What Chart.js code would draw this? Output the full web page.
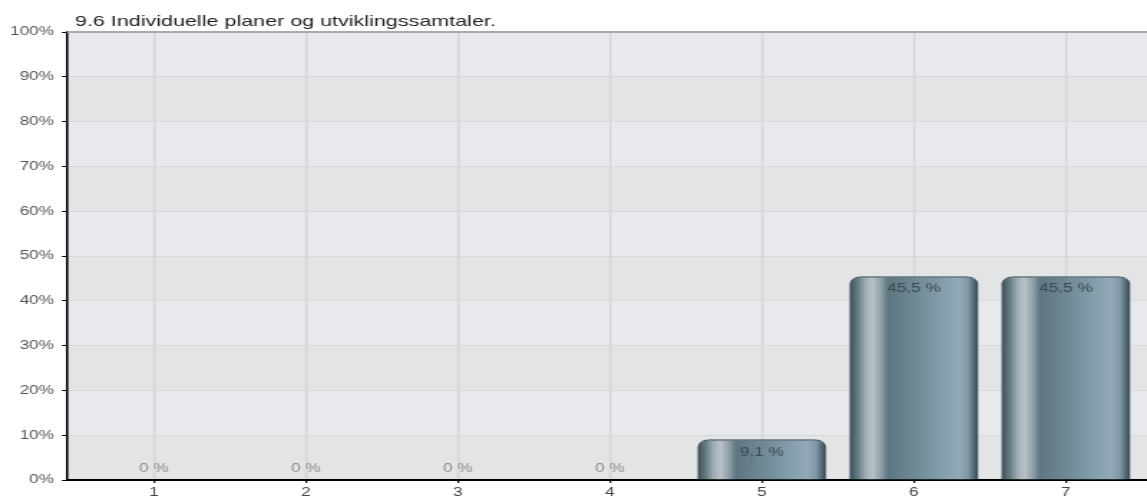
<!DOCTYPE html>
<html>
<head>
<meta charset="utf-8">
<script src="https://cdn.jsdelivr.net/npm/chart.js@4/dist/chart.umd.min.js"></script>
<style>
  html, body { margin: 0; padding: 0; background: #fff; overflow: hidden; }
  #wrap { width: 1147px; height: 499px; overflow: hidden; }
  /* the chart is laid out 800px wide and stretched to the full page width */
  canvas { display: block; transform: scaleX(1.43375); transform-origin: 0 0; }
</style>
</head>
<body>
<div id="wrap"><canvas id="c" width="800" height="499"></canvas></div>
<script>
const chartTitle = '9.6 Individuelle planer og utviklingssamtaler.';
const categories = ['1', '2', '3', '4', '5', '6', '7'];
const shares = [0, 0, 0, 0, 9.1, 45.5, 45.5];   // percent of answers

const FONT = '"Liberation Sans", Arial, Helvetica, sans-serif';
const BAR_FRACTION = 0.85;

// metallic cylinder look for each bar
const barStops = [
  [0.00, '#3b4d57'], [0.06, '#62777f'], [0.13, '#a3b0b7'], [0.18, '#b8c2c8'],
  [0.24, '#93a3ab'], [0.30, '#5f7783'], [0.50, '#6e8894'], [0.70, '#829caa'],
  [0.85, '#93abb8'], [0.92, '#7f97a4'], [0.97, '#4d626d'], [1.00, '#3c4f59']
];

function barFill(ctx) {
  const chart = ctx.chart;
  const xs = chart.scales && chart.scales.x;
  if (ctx.type !== 'data' || !xs) return '#6e8894';
  const c = Number(categories[ctx.dataIndex]);
  const x0 = xs.getPixelForValue(c - BAR_FRACTION / 2);
  const x1 = xs.getPixelForValue(c + BAR_FRACTION / 2);
  if (!isFinite(x0) || !isFinite(x1) || x1 <= x0) return '#6e8894';
  const g = chart.ctx.createLinearGradient(x0, 0, x1, 0);
  barStops.forEach(([o, col]) => g.addColorStop(o, col));
  return g;
}

// alternating horizontal bands behind the grid
const bandsPlugin = {
  id: 'bands',
  beforeDraw(chart) {
    const { ctx, chartArea: a, scales: { y } } = chart;
    ctx.save();
    for (let v = 0; v < 100; v += 10) {
      const top = y.getPixelForValue(v + 10);
      const bot = y.getPixelForValue(v);
      ctx.fillStyle = (v / 10) % 2 === 0 ? '#e3e4e6' : '#e7e9ec';
      ctx.fillRect(a.left, top, a.right - a.left, bot - top);
    }
    ctx.restore();
  }
};

// grey frame line along the top of the plot
const topLinePlugin = {
  id: 'topLine',
  afterDatasetsDraw(chart) {
    const { ctx, chartArea: a } = chart;
    ctx.save();
    ctx.strokeStyle = '#a9aaac';
    ctx.lineWidth = 2;
    ctx.beginPath();
    ctx.moveTo(a.left, a.top);
    ctx.lineTo(a.right, a.top);
    ctx.stroke();
    ctx.restore();
  }
};

// percentage printed on each bar
const valueLabelPlugin = {
  id: 'valueLabels',
  afterDatasetsDraw(chart) {
    const { ctx } = chart;
    const meta = chart.getDatasetMeta(0);
    ctx.save();
    ctx.font = '12px ' + FONT;
    ctx.textAlign = 'center';
    ctx.textBaseline = 'middle';
    meta.data.forEach((bar, i) => {
      const v = shares[i];
      const text = String(v).replace('.', ',') + ' %';
      if (v > 0) {
        ctx.fillStyle = '#3d474c';
        ctx.fillText(text, bar.x, bar.y + 13);
      } else {
        ctx.fillStyle = '#8c8c8c';
        ctx.fillText(text, bar.x, bar.base - 11);
      }
    });
    ctx.restore();
  }
};

const titlePlugin = {
  id: 'chartTitle',
  afterDraw(chart) {
    const { ctx } = chart;
    ctx.save();
    ctx.font = '15px ' + FONT;
    ctx.fillStyle = '#1e1e1e';
    ctx.textAlign = 'left';
    ctx.textBaseline = 'alphabetic';
    ctx.fillText(chartTitle, 52.3, 25.5);
    ctx.restore();
  }
};

new Chart(document.getElementById('c'), {
  type: 'bar',
  data: {
    labels: categories,
    datasets: [{
      data: shares,
      backgroundColor: barFill,
      borderColor: '#41525c',
      borderWidth: { top: 1.5, left: 0, right: 0, bottom: 0 },
      borderRadius: { topLeft: 8, topRight: 8, bottomLeft: 0, bottomRight: 0 },
      borderSkipped: 'start',
      barPercentage: BAR_FRACTION,
      categoryPercentage: 1
    }]
  },
  options: {
    responsive: false,
    devicePixelRatio: 1,
    animation: false,
    layout: { padding: { top: 32, right: 0, bottom: 0, left: 0 } },
    plugins: { legend: { display: false }, tooltip: { enabled: false }, title: { display: false } },
    scales: {
      x: {
        type: 'linear',
        min: 0.4274,
        max: 7.534,
        offset: false,
        grid: { offset: false, color: '#d3d4d6', lineWidth: 1.4, tickColor: '#000', tickLength: 3, tickWidth: 1.2 },
        border: { color: '#000', width: 2 },
        ticks: {
          stepSize: 1, includeBounds: false, autoSkip: false, maxRotation: 0,
          padding: 2, color: '#444', font: { family: FONT, size: 12 },
          callback: (v) => categories[v - 1] ?? ''
        },
        afterFit(s) { s.height = 19; }
      },
      y: {
        min: 0,
        max: 100,
        grid: { color: '#d6d7d9', lineWidth: 1, tickColor: '#000', tickLength: 3.5, tickWidth: 1 },
        border: { color: '#000', width: 1.6 },
        ticks: {
          stepSize: 10, padding: 5.5, color: '#555', font: { family: FONT, size: 12 },
          callback: (v) => v + '%'
        },
        afterFit(s) { s.width = 46.7; }
      }
    }
  },
  plugins: [bandsPlugin, topLinePlugin, valueLabelPlugin, titlePlugin]
});
</script>
</body>
</html>
